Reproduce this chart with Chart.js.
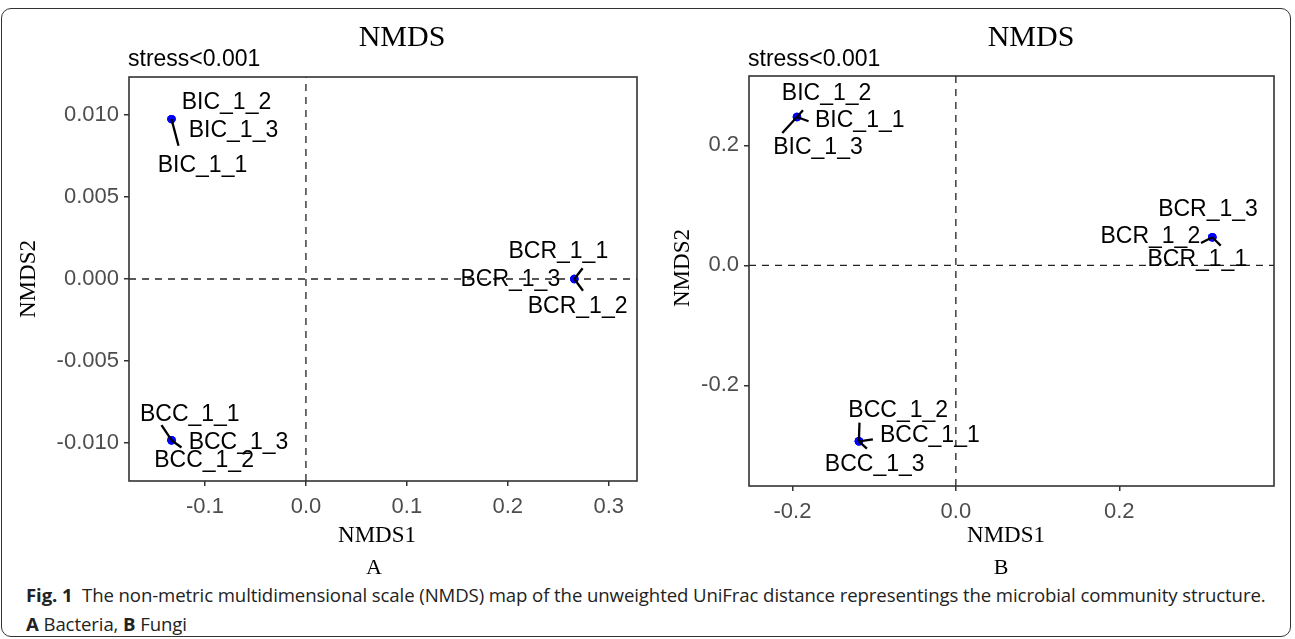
<!DOCTYPE html>
<html>
<head>
<meta charset="utf-8">
<script src="https://cdn.jsdelivr.net/npm/chart.js@4.4.1/dist/chart.umd.min.js"></script>
<style>
  body { margin:0; background:#fff; }
  #page { position:relative; width:1295px; height:639px; overflow:hidden; background:#fff; }
  #frame { position:absolute; left:1px; top:8px; width:1290px; height:629px; border:1.5px solid #333; border-radius:10px; box-sizing:border-box; }
  .cv { position:absolute; top:0; }
  .t { position:absolute; white-space:nowrap; color:#000; }
  .serif { font-family:"Liberation Serif","DejaVu Serif",serif; }
  .sans { font-family:"Liberation Sans",Arial,sans-serif; }
  .title { font-size:30px; transform:translate(-50%,-50%); }
  .stress { font-size:23px; transform:translateY(-50%); }
  .axt { font-size:23px; transform:translate(-50%,-50%); }
  .axy { font-size:23px; transform:translate(-50%,-50%) rotate(-90deg); }
  .panel { font-size:22px; transform:translate(-50%,-50%); }
  #caption { position:absolute; left:26px; top:580px; font-family:"Open Sans","Noto Sans",sans-serif; font-size:18.6px; line-height:29px; color:#222; letter-spacing:-0.1px; }
  #caption b { font-weight:700; }
</style>
</head>
<body>
<div id="page">
  <div id="frame"></div>
  <canvas id="cA" class="cv" width="655" height="560" style="left:0px"></canvas>
  <canvas id="cB" class="cv" width="635" height="560" style="left:660px"></canvas>

  <div class="t serif title" style="left:402px;top:36px">NMDS</div>
  <div class="t serif title" style="left:1031px;top:36px">NMDS</div>
  <div class="t sans stress" style="left:128px;top:58px">stress&lt;0.001</div>
  <div class="t sans stress" style="left:748px;top:58px">stress&lt;0.001</div>
  <div class="t serif axt" style="left:377px;top:535px">NMDS1</div>
  <div class="t serif axt" style="left:1006px;top:535px">NMDS1</div>
  <div class="t serif axy" style="left:28px;top:279px">NMDS2</div>
  <div class="t serif axy" style="left:682px;top:268px">NMDS2</div>
  <div class="t serif panel" style="left:374px;top:567px">A</div>
  <div class="t serif panel" style="left:1001px;top:567px">B</div>

  <div id="caption"><b>Fig. 1</b>&nbsp;&nbsp;The non-metric multidimensional scale (NMDS) map of the unweighted UniFrac distance representings the microbial community structure.<br><b>A</b> Bacteria, <b>B</b> Fungi</div>
</div>

<script>
// ---- data: panel A (bacteria)
const samplesA = ['BIC_1_1','BIC_1_2','BIC_1_3','BCC_1_1','BCC_1_2','BCC_1_3','BCR_1_1','BCR_1_2','BCR_1_3'];
const nmds1A = [-0.1332,-0.1332,-0.1332, -0.1332,-0.1332,-0.1332, 0.2659,0.2659,0.2659];
const nmds2A = [0.00976,0.00976,0.00976, -0.00984,-0.00984,-0.00984, 0.0,0.0,0.0];
const xTicksA = [-0.1, 0, 0.1, 0.2, 0.3];
const xTickLabelsA = ['-0.1','0.0','0.1','0.2','0.3'];
const yTicksA = [-0.01, -0.005, 0, 0.005, 0.01];
const yTickLabelsA = ['-0.010','-0.005','0.000','0.005','0.010'];
const xRangeA = [-0.1753, 0.328];
const yRangeA = [-0.01233, 0.01233];

// ---- data: panel B (fungi)
const samplesB = ['BIC_1_1','BIC_1_2','BIC_1_3','BCC_1_1','BCC_1_2','BCC_1_3','BCR_1_1','BCR_1_2','BCR_1_3'];
const nmds1B = [-0.1945,-0.1945,-0.1945, -0.1187,-0.1187,-0.1187, 0.3139,0.3139,0.3139];
const nmds2B = [0.2472,0.2472,0.2472, -0.2933,-0.2933,-0.2933, 0.0467,0.0467,0.0467];
const xTicksB = [-0.2, 0, 0.2];
const xTickLabelsB = ['-0.2','0.0','0.2'];
const yTicksB = [-0.2, 0, 0.2];
const yTickLabelsB = ['-0.2','0.0','0.2'];
const xRangeB = [-0.2532, 0.3894];
const yRangeB = [-0.3678, 0.3155];

// label placement (repel-style offsets in px from the point): [dx, dy, segEndX, segEndY]
const repelA = {
  BIC_1_1:[31,46.7,7,26.7], BIC_1_2:[55,-16.6], BIC_1_3:[62,11.7],
  BCC_1_1:[18.3,-25.3,-10,-15], BCC_1_2:[32.6,20,10,7.3], BCC_1_3:[67,2.7],
  BCR_1_1:[-16,-27.3,8.3,-10.7], BCR_1_2:[3.3,27.7,8.7,11.7], BCR_1_3:[-64,1]
};
const repelB = {
  BIC_1_1:[62.8,3.3,11.6,4.3], BIC_1_2:[29.6,-23.4,6,-6.7], BIC_1_3:[21,30.6,-14.7,16],
  BCC_1_1:[71,-6,14,-2], BCC_1_2:[39.3,-30.3,0.6,-18.7], BCC_1_3:[15.8,23,8,7.3],
  BCR_1_1:[-15,22.3,8.4,8.3], BCR_1_2:[-62,-0.3,-11.3,5.7], BCR_1_3:[-4.3,-28]
};

const LABEL_FONT = '23px "Liberation Sans", Arial, sans-serif';
const TICK_FONT = { family:'"Liberation Sans", Arial, sans-serif', size:22 };

const boxAndLabels = {
  id:'boxAndLabels',
  afterDatasetsDraw(chart, args, opts){
    const {ctx, chartArea:a} = chart;
    ctx.save();
    ctx.strokeStyle = '#333'; ctx.lineWidth = 1.6;
    ctx.strokeRect(a.left, a.top, a.right - a.left, a.bottom - a.top);
    const meta = chart.getDatasetMeta(0);
    const names = opts.names, rep = opts.repel;
    ctx.strokeStyle = '#000'; ctx.lineWidth = 2.3;
    meta.data.forEach((pt, i) => {
      const r = rep[names[i]];
      if (r && r.length > 2) {
        ctx.beginPath(); ctx.moveTo(pt.x, pt.y); ctx.lineTo(pt.x + r[2], pt.y + r[3]); ctx.stroke();
      }
    });
    ctx.font = LABEL_FONT; ctx.fillStyle = '#000';
    ctx.textAlign = 'center'; ctx.textBaseline = 'middle';
    meta.data.forEach((pt, i) => {
      const r = rep[names[i]];
      ctx.fillText(names[i], pt.x + r[0], pt.y + r[1]);
    });
    ctx.restore();
  }
};

function makeChart(id, names, xs, ys, xr, yr, xt, xtl, yt, ytl, repel, fit){
  const pts = xs.map((x, i) => ({x, y: ys[i]}));
  const dash = (data) => ({ type:'line', data, borderColor:'#222', borderWidth:1.3, borderDash:[7,6], pointRadius:0, fill:false });
  return new Chart(document.getElementById(id), {
    type:'scatter',
    data:{ datasets:[
      { data:pts, pointRadius:4.2, pointBackgroundColor:'#0000ff', pointBorderWidth:0 },
      dash([{x:0,y:yr[0]},{x:0,y:yr[1]}]),
      dash([{x:xr[0],y:0},{x:xr[1],y:0}])
    ]},
    options:{
      responsive:false, animation:false,
      layout:{ padding:{ left:0, top:fit.top, right:fit.right, bottom:0 } },
      plugins:{ legend:{display:false}, tooltip:{enabled:false}, boxAndLabels:{ names, repel } },
      scales:{
        x:{ type:'linear', min:xr[0], max:xr[1],
            afterBuildTicks: s => { s.ticks = xt.map(v => ({value:v})); },
            afterFit: s => { s.height = fit.xh; },
            ticks:{ color:'#4d4d4d', font:TICK_FONT, padding:8, maxRotation:0,
                    callback: v => xtl[xt.findIndex(t => Math.abs(t - v) < 1e-9)] },
            grid:{ drawOnChartArea:false, drawTicks:true, tickLength:5, color:'#333', lineWidth:1.5 },
            border:{ display:false } },
        y:{ type:'linear', min:yr[0], max:yr[1],
            afterBuildTicks: s => { s.ticks = yt.map(v => ({value:v})); },
            afterFit: s => { s.width = fit.yw; },
            ticks:{ color:'#4d4d4d', font:TICK_FONT, padding:5,
                    callback: v => ytl[yt.findIndex(t => Math.abs(t - v) < 1e-9)] },
            grid:{ drawOnChartArea:false, drawTicks:true, tickLength:5, color:'#333', lineWidth:1.5 },
            border:{ display:false } }
      }
    },
    plugins:[boxAndLabels]
  });
}

makeChart('cA', samplesA, nmds1A, nmds2A, xRangeA, yRangeA, xTicksA, xTickLabelsA, yTicksA, yTickLabelsA, repelA,
  { top:77, right:18, xh:79, yw:129 });
makeChart('cB', samplesB, nmds1B, nmds2B, xRangeB, yRangeB, xTicksB, xTickLabelsB, yTicksB, yTickLabelsB, repelB,
  { top:76, right:21, xh:74, yw:89 });
</script>
</body>
</html>
